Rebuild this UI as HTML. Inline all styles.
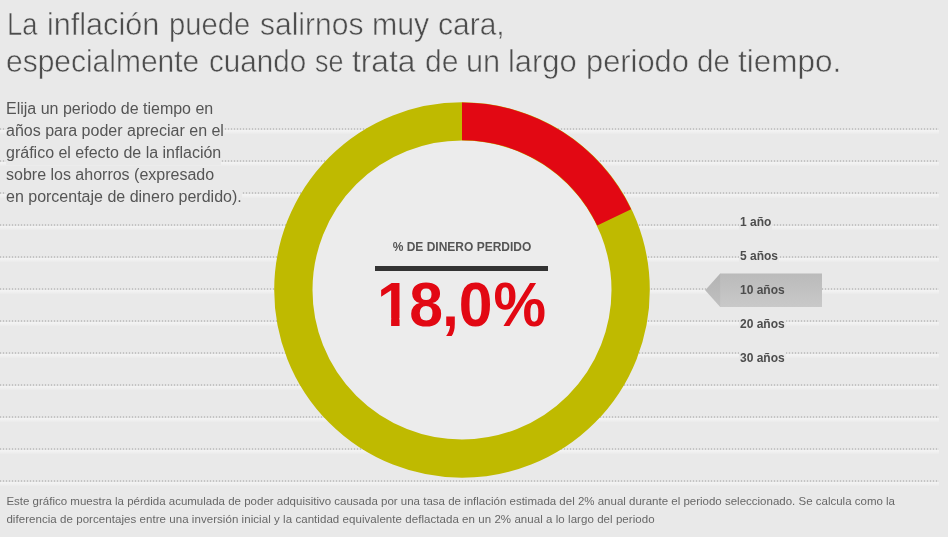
<!DOCTYPE html>
<html lang="es">
<head>
<meta charset="utf-8">
<title>La inflación puede salirnos muy cara</title>
<style>
html,body{margin:0;padding:0;}
body{width:948px;height:537px;overflow:hidden;background:#e9e9e9;font-family:"Liberation Sans",Arial,sans-serif;position:relative;}
#stage{position:absolute;left:0;top:0;width:948px;height:537px;overflow:hidden;background:#e9e9e9;}
.rule{position:absolute;left:0;width:939px;height:2px;
  background-image:repeating-linear-gradient(to right,#c4c4c4 0,#c4c4c4 1px,#e4e4e4 1px,#e4e4e4 3px);}
.rule:after{content:"";position:absolute;left:0;top:2px;width:100%;height:4px;background:linear-gradient(to bottom,#f3f3f3,#f0f0f0 50%,#ebebeb);}
h1{position:absolute;left:1px;top:6.1px;margin:0;font-weight:normal;font-size:30.5px;line-height:37px;color:#4c4c4c;-webkit-text-stroke:0.5px #e9e9e9;white-space:nowrap;}
h1 .w{position:absolute;display:block;transform-origin:0 0;}
#intro{position:absolute;left:6px;top:97.7px;margin:0;font-size:16px;line-height:22px;color:#555;white-space:nowrap;}
#intro span{background:#e9e9e9;padding-bottom:1px;}
#foot{position:absolute;left:6.4px;top:492.8px;margin:0;font-size:11.5px;line-height:17.8px;color:#676767;white-space:nowrap;}
#donut{position:absolute;left:274px;top:101.8px;width:376px;height:376px;}
#lbl{position:absolute;left:362px;top:239px;width:200px;text-align:center;font-weight:bold;font-size:12px;line-height:16px;color:#555;white-space:nowrap;}
#bar{position:absolute;left:375px;top:266px;width:173px;height:5px;background:#333;}
#val{position:absolute;left:377.3px;top:269.1px;width:220px;text-align:left;font-weight:bold;font-size:63.4px;line-height:70px;color:#e20813;white-space:nowrap;transform:scaleX(.957);transform-origin:0 0;}
.one{letter-spacing:-1.57px;}
.eight{letter-spacing:-1.04px;}
.pct{display:inline-block;transform:scaleX(.975);transform-origin:50% 50%;}
#mask{position:absolute;left:378px;top:318px;width:40px;height:12px;}
.opt{position:absolute;left:739px;padding:0 1px;background:#e9e9e9;font-weight:bold;font-size:12px;line-height:16px;color:#4d4d4d;white-space:nowrap;}
.opt.sel{background:none;}
#f2{letter-spacing:0.055px;}
#tag{position:absolute;left:705px;top:272.6px;width:118px;height:35px;}
</style>
</head>
<body>
<div id="stage">
  <div class="rule" style="top:128px"></div>
  <div class="rule" style="top:160px"></div>
  <div class="rule" style="top:192px"></div>
  <div class="rule" style="top:224px"></div>
  <div class="rule" style="top:256px"></div>
  <div class="rule" style="top:288px"></div>
  <div class="rule" style="top:320px"></div>
  <div class="rule" style="top:352px"></div>
  <div class="rule" style="top:384px"></div>
  <div class="rule" style="top:416px"></div>
  <div class="rule" style="top:448px"></div>
  <div class="rule" style="top:480px"></div>

  <h1><span class="w" style="left:5.51px;top:0px;transform:scaleX(0.8956)">La</span> <span class="w" style="left:46.03px;top:0px;transform:scaleX(1.0027)">inflación</span> <span class="w" style="left:168.15px;top:0px;transform:scaleX(0.9574)">puede</span> <span class="w" style="left:258.9px;top:0px;transform:scaleX(0.984)">salirnos</span> <span class="w" style="left:370.6px;top:0px;transform:scaleX(0.9935)">muy</span> <span class="w" style="left:437.03px;top:0px;transform:scaleX(0.9828)">cara,</span>
    <span class="w" style="left:5.44px;top:37px;transform:scaleX(0.9825)">especialmente</span> <span class="w" style="left:207.66px;top:37px;transform:scaleX(0.9719)">cuando</span> <span class="w" style="left:314.16px;top:37px;transform:scaleX(0.8814)">se</span> <span class="w" style="left:350.66px;top:37px;transform:scaleX(1.039)">trata</span> <span class="w" style="left:423.63px;top:37px;transform:scaleX(0.9867)">de</span> <span class="w" style="left:465.01px;top:37px;transform:scaleX(1.0066)">un</span> <span class="w" style="left:507.27px;top:37px;transform:scaleX(1.0141)">largo</span> <span class="w" style="left:584.73px;top:37px;transform:scaleX(1.0107)">periodo</span> <span class="w" style="left:695.76px;top:37px;transform:scaleX(0.97)">de</span> <span class="w" style="left:736.57px;top:37px;transform:scaleX(1.031)">tiempo.</span></h1>

  <p id="intro"><span>Elija un periodo de tiempo en</span><br><span>años para poder apreciar en el</span><br><span style="padding-bottom:4px">gráfico el efecto de la inflación</span><br><span>sobre los ahorros (expresado</span><br><span>en porcentaje de dinero perdido).</span></p>

  <svg id="donut" viewBox="0 0 376 376">
    <circle cx="188" cy="188" r="168.65" fill="#ececec" stroke="#bfba00" stroke-width="38.3"/>
    <path d="M188 0.60 A187.4 187.4 0 0 1 357.14 107.32 L323.21 123.51 A149.8 149.8 0 0 0 188 38.20 Z" fill="#e20813"/>
  </svg>

  <div id="lbl">% DE DINERO PERDIDO</div>
  <div id="bar"></div>
  <div id="val"><span class="one">1</span><span class="eight">8</span>,0<span class="pct">%</span></div>
  <svg id="mask" viewBox="0 0 40 12"><rect x="0" y="0" width="13.1" height="12" fill="#ececec"/><rect x="21.55" y="0" width="10.9" height="12" fill="#ececec"/></svg>

  <svg id="tag" viewBox="0 0 118 35">
    <defs><linearGradient id="g" x1="0" y1="0" x2="0" y2="1"><stop offset="0" stop-color="#bababa"/><stop offset="1" stop-color="#c9c9c9"/></linearGradient>
    <linearGradient id="g2" x1="0" y1="0" x2="0" y2="1"><stop offset="0" stop-color="#b3b3b3"/><stop offset="1" stop-color="#c0c0c0"/></linearGradient></defs>
    <path d="M15 0.5 L117 0.5 L117 34 L15 34 Z" fill="url(#g)"/>
    <path d="M0.2 17.25 L15.2 0.5 L15.2 34 Z" fill="url(#g2)"/>
  </svg>
  <div class="opt" style="top:214px">1 año</div>
  <div class="opt" style="top:247.9px">5 años</div>
  <div class="opt sel" style="top:281.8px">10 años</div>
  <div class="opt" style="top:315.7px">20 años</div>
  <div class="opt" style="top:349.6px">30 años</div>

  <p id="foot"><span id="f1">Este gráfico muestra la pérdida acumulada de poder adquisitivo causada por una tasa de inflación estimada del 2% anual durante el periodo seleccionado. Se calcula como la</span><br><span id="f2">diferencia de porcentajes entre una inversión inicial y la cantidad equivalente deflactada en un 2% anual a lo largo del periodo</span></p>
</div>
</body>
</html>
